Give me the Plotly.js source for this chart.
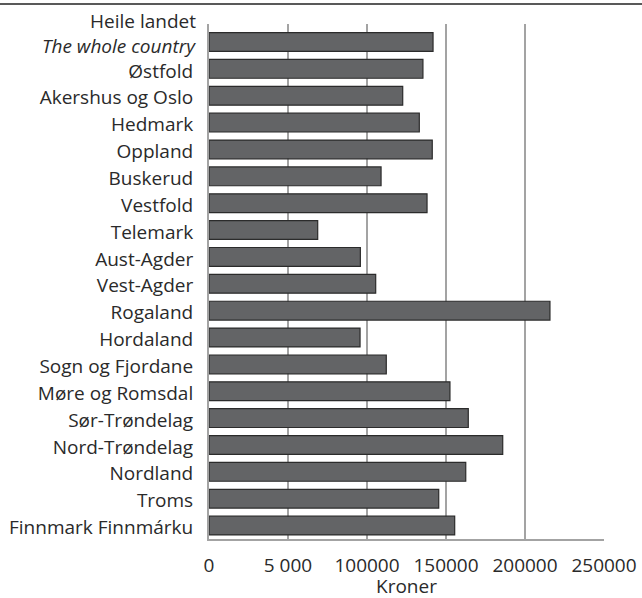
<!DOCTYPE html>
<html>
<head>
<meta charset="utf-8">
<script src="https://cdn.plot.ly/plotly-3.0.1.min.js"></script>
<style>html,body{margin:0;padding:0;background:#fff;}#chart{width:642px;height:598px;}</style>
</head>
<body>
<div id="chart"></div>
<script>
const categories = [
  "Heile landet",
  "Østfold",
  "Akershus og Oslo",
  "Hedmark",
  "Oppland",
  "Buskerud",
  "Vestfold",
  "Telemark",
  "Aust-Agder",
  "Vest-Agder",
  "Rogaland",
  "Hordaland",
  "Sogn og Fjordane",
  "Møre og Romsdal",
  "Sør-Trøndelag",
  "Nord-Trøndelag",
  "Nordland",
  "Troms",
  "Finnmark Finnmárku"
];
const firstSubLabel = "The whole country";
const values = [141800, 135400, 122600, 133100, 141300, 108900, 138000, 68800, 95800, 105500,
                215800, 95600, 112200, 152500, 164100, 185900, 162500, 145400, 155500];
const tickVals = [0, 50000, 100000, 150000, 200000, 250000];
const tickText = ["0", "5 000", "100000", "150000", "200000", "250000"];
const xTitle = "Kroner";

const trace = {
  type: "bar",
  orientation: "h",
  x: values,
  y: categories,
  marker: {color: "#636466", line: {color: "#2b2b2b", width: 1.2}},
  hoverinfo: "none"
};

const font = {family: "Open Sans, Noto Sans, sans-serif", size: 19, color: "#2a2a2a"};

// y tick labels: first category label drawn as two annotation lines
const yTickText = categories.map((c, i) => i === 0 ? "" : c);

const layout = {
  width: 642,
  height: 598,
  margin: {l: 209, r: 38, t: 24, b: 59, pad: 0},
  paper_bgcolor: "#ffffff",
  plot_bgcolor: "#ffffff",
  font: font,
  showlegend: false,
  bargap: 0.3,
  xaxis: {
    range: [0, 250000],
    tickvals: tickVals,
    ticktext: tickText,
    showgrid: true,
    gridcolor: "#a3a3a3",
    gridwidth: 2,
    zeroline: false,
    showline: true,
    linecolor: "#a3a3a3",
    linewidth: 2,
    ticks: "",
    ticklabelstandoff: 8,
    tickfont: font,
    fixedrange: true
  },
  yaxis: {
    type: "category",
    autorange: "reversed",
    tickvals: categories,
    ticktext: yTickText,
    showgrid: false,
    zeroline: false,
    showline: true,
    linecolor: "#a3a3a3",
    linewidth: 2,
    ticks: "",
    ticklabelstandoff: 10,
    ticklabelshift: -2,
    tickfont: font,
    fixedrange: true
  },
  annotations: [
    {xref: "paper", yref: "y", x: -12/395, y: categories[0], xanchor: "right", yanchor: "middle",
     text: categories[0], showarrow: false, font: font, yshift: 21, borderpad: 0},
    {xref: "paper", yref: "y", x: -12/395, y: categories[0], xanchor: "right", yanchor: "middle",
     text: "<i>" + firstSubLabel + "</i>", showarrow: false, font: font, yshift: -4, borderpad: 0},
    {xref: "paper", yref: "paper", x: 0.5, y: -47/515, xanchor: "center", yanchor: "middle",
     text: xTitle, showarrow: false, font: font, borderpad: 0}
  ],
  shapes: [{
    type: "line", xref: "paper", yref: "paper",
    x0: -209/395, x1: (642-209)/395,
    y0: 1 + 20/515, y1: 1 + 20/515,
    line: {color: "#222222", width: 1.5}
  }]
};

Plotly.newPlot("chart", [trace], layout, {staticPlot: true, displayModeBar: false});
</script>
</body>
</html>
